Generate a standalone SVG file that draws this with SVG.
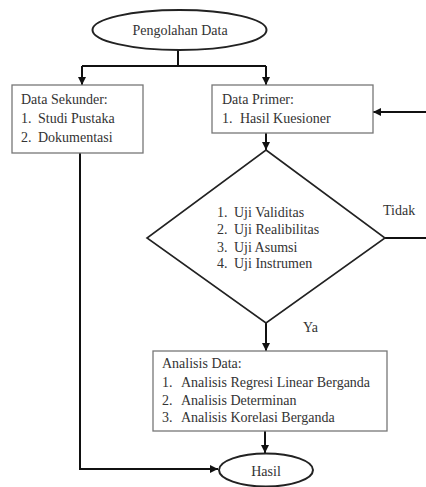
<svg xmlns="http://www.w3.org/2000/svg" width="426" height="487" viewBox="0 0 426 487" font-family="'Liberation Serif', 'DejaVu Serif', serif">
<style>
text{font-family:'Liberation Serif','DejaVu Serif','Times New Roman',serif;font-size:14px;fill:#333}
.box{fill:#fff;stroke:#777;stroke-width:1.3}
.term{fill:#fff;stroke:#222;stroke-width:2}
.dia{fill:#fff;stroke:#222;stroke-width:1.6}
.c{fill:none;stroke:#111;stroke-width:2}
</style>
<defs>
<marker id="ah" viewBox="0 0 10 10" refX="10" refY="5" markerWidth="4" markerHeight="4" orient="auto" markerUnits="strokeWidth">
<path d="M0,0 L10,5 L0,10 z" fill="#111"/>
</marker>
</defs>
<rect width="426" height="487" fill="#fff"/>
<g id="connectors">
<path class="c" d="M178,50 V66"/>
<path class="c" d="M82,66 H266"/>
<path class="c" d="M82,66 V85" marker-end="url(#ah)"/>
<path class="c" d="M266,66 V85" marker-end="url(#ah)"/>
<path class="c" d="M266,133 V150" marker-end="url(#ah)"/>
<path class="c" d="M426,112 H373" marker-end="url(#ah)"/>
<path class="c" d="M385,238 H426"/>
<path class="c" d="M266,323 V351" marker-end="url(#ah)"/>
<path class="c" d="M265,431 V453" marker-end="url(#ah)"/>
<path class="c" d="M80,153 V469 H218" marker-end="url(#ah)"/>
</g>
<g id="start">
<ellipse class="term" cx="179.5" cy="30" rx="87" ry="20"/>
<text x="180" y="35" text-anchor="middle">Pengolahan Data</text>
</g>
<g id="sekunder">
<rect class="box" x="12" y="85" width="131" height="68"/>
<text x="21" y="104">Data Sekunder:</text>
<text x="21" y="123">1.</text><text x="38" y="123">Studi Pustaka</text>
<text x="21" y="142">2.</text><text x="38" y="142">Dokumentasi</text>
</g>
<g id="primer">
<rect class="box" x="212" y="85" width="161" height="48"/>
<text x="222" y="104">Data Primer:</text>
<text x="222" y="123">1.</text><text x="240" y="123">Hasil Kuesioner</text>
</g>
<g id="uji">
<polygon class="dia" points="266,150 385,238 266,323 147,238"/>
<text x="217" y="217">1.</text><text x="234" y="217">Uji Validitas</text>
<text x="217" y="234">2.</text><text x="234" y="234">Uji Realibilitas</text>
<text x="217" y="252">3.</text><text x="234" y="252">Uji Asumsi</text>
<text x="217" y="268">4.</text><text x="234" y="268">Uji Instrumen</text>
</g>
<g id="labels">
<text x="383" y="215">Tidak</text>
<text x="303" y="332">Ya</text>
</g>
<g id="analisis">
<rect class="box" x="153" y="351" width="234" height="80"/>
<text x="162" y="368">Analisis Data:</text>
<text x="162" y="387">1.</text><text x="181" y="387">Analisis Regresi Linear Berganda</text>
<text x="162" y="405">2.</text><text x="181" y="405">Analisis Determinan</text>
<text x="162" y="422">3.</text><text x="181" y="422">Analisis Korelasi Berganda</text>
</g>
<g id="hasil">
<ellipse class="term" cx="266" cy="470" rx="47" ry="16.5"/>
<text x="266" y="476" text-anchor="middle">Hasil</text>
</g>
</svg>
